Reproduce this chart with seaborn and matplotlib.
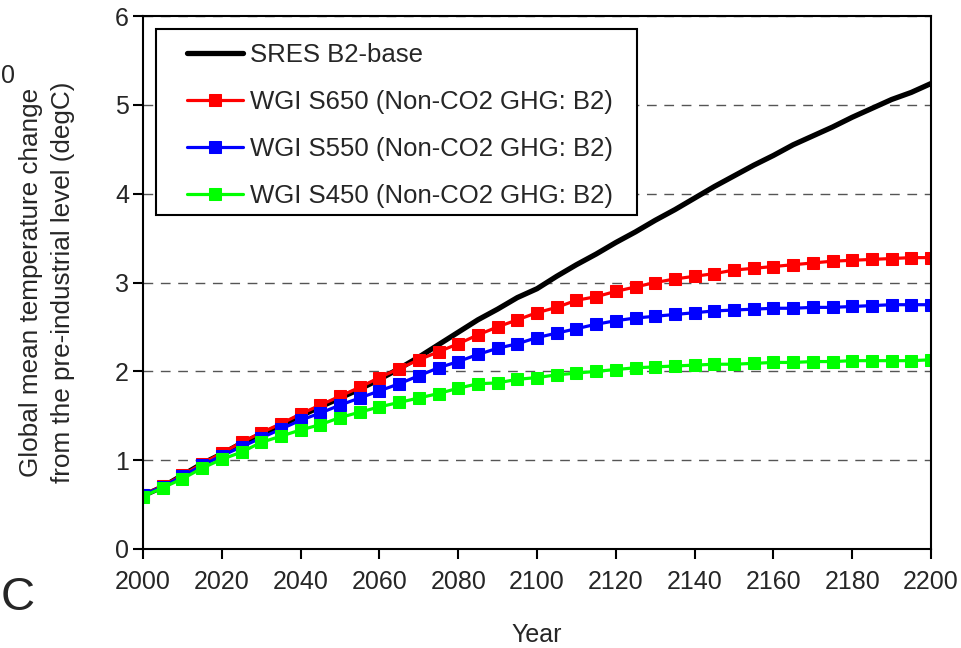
import numpy as np
import pandas as pd
import matplotlib
matplotlib.use("Agg")
import matplotlib.pyplot as plt
from matplotlib.patches import Rectangle
import seaborn as sns

years = list(range(2000, 2201, 5))

b2_base = [0.60, 0.70, 0.83, 0.96, 1.07, 1.19, 1.29, 1.39, 1.50, 1.60, 1.70, 1.80, 1.91, 2.03,
           2.16, 2.30, 2.44, 2.58, 2.70, 2.83, 2.93, 3.07, 3.20, 3.32, 3.45, 3.57, 3.70, 3.82,
           3.95, 4.08, 4.20, 4.32, 4.43, 4.55, 4.65, 4.75, 4.86, 4.96, 5.06, 5.14, 5.24]
s650 = [0.61, 0.71, 0.83, 0.96, 1.08, 1.20, 1.31, 1.41, 1.52, 1.62, 1.72, 1.82, 1.93, 2.03,
        2.13, 2.22, 2.31, 2.41, 2.50, 2.58, 2.66, 2.72, 2.80, 2.84, 2.90, 2.95, 3.00, 3.04,
        3.07, 3.10, 3.14, 3.16, 3.18, 3.20, 3.22, 3.24, 3.25, 3.26, 3.27, 3.28, 3.28]
s550 = [0.61, 0.70, 0.82, 0.94, 1.05, 1.15, 1.25, 1.35, 1.45, 1.53, 1.62, 1.70, 1.78, 1.86,
        1.95, 2.04, 2.11, 2.19, 2.26, 2.31, 2.38, 2.43, 2.48, 2.53, 2.57, 2.60, 2.62, 2.64,
        2.66, 2.68, 2.69, 2.70, 2.71, 2.71, 2.72, 2.72, 2.73, 2.74, 2.75, 2.75, 2.75]
s450 = [0.59, 0.69, 0.79, 0.91, 1.01, 1.09, 1.20, 1.27, 1.34, 1.40, 1.48, 1.54, 1.60, 1.65,
        1.70, 1.75, 1.81, 1.86, 1.87, 1.91, 1.93, 1.96, 1.98, 2.00, 2.02, 2.04, 2.05, 2.06,
        2.07, 2.08, 2.08, 2.09, 2.10, 2.10, 2.11, 2.11, 2.12, 2.12, 2.12, 2.12, 2.13]

labels = ["SRES B2-base", "WGI S650 (Non-CO2 GHG: B2)",
          "WGI S550 (Non-CO2 GHG: B2)", "WGI S450 (Non-CO2 GHG: B2)"]
x_ticks = list(range(2000, 2201, 20))
y_ticks = [0, 1, 2, 3, 4, 5, 6]

sns.set_theme(style="white")
plt.rcParams["font.family"] = ["Liberation Sans", "DejaVu Sans"]

fig = plt.figure(figsize=(9.62, 6.48), dpi=100)
ax = fig.add_axes([143/962, 1-549/648, (931-143)/962, (549-16)/648])

ax.yaxis.grid(True, linestyle=(0, (7, 5.5)), color="#555555", linewidth=1)
ax.set_axisbelow(True)

sns.lineplot(x=years, y=b2_base, ax=ax, color="black", linewidth=3.8, label=labels[0])
series = [(s650, "#FF0000", labels[1]), (s550, "#0000FF", labels[2]), (s450, "#00FF00", labels[3])]
for vals, col, lab in series:
    sns.lineplot(x=years, y=vals, ax=ax, color=col, linewidth=2.3, marker="s",
                 markersize=8, markeredgecolor=col, markerfacecolor=col, label=lab)

ax.set_xlim(2000, 2200)
ax.set_ylim(0, 6)
ax.set_xticks(x_ticks)
ax.set_yticks(y_ticks)
ax.tick_params(axis="both", labelsize=18, direction="out", length=7, width=1.5, color="black",
               bottom=True, left=True)
ax.tick_params(axis="x", pad=8)
ax.tick_params(axis="y", pad=3)
for sp in ax.spines.values():
    sp.set_visible(True)
    sp.set_color("black")
    sp.set_linewidth(1.5)

ax.set_xlabel("Year", fontsize=18)
ax.xaxis.set_label_coords(0.5, (549-635)/533)
ax.xaxis.label.set_va("center")
ax.set_ylabel("Global mean temperature change\nfrom the pre-industrial level (degC)",
              fontsize=18.8, linespacing=1.45)
ax.yaxis.set_label_coords((47-143)/788, 0.5)
ax.yaxis.label.set_va("center")

# legend frame drawn as a box, legend entries placed inside it
box = Rectangle(((156-143)/788, (549-215)/533), (637-156)/788, (215-29)/533,
                transform=ax.transAxes, facecolor="white", edgecolor="black",
                linewidth=1.5, zorder=6, clip_on=False)
ax.add_patch(box)
leg = ax.legend(loc="upper left", bbox_to_anchor=((187-143)/788, (549-43)/533), borderaxespad=0,
                fontsize=18.5, frameon=False, handlelength=2.18, handletextpad=0.27,
                labelspacing=0.9, borderpad=0)
leg.set_zorder(7)

fig.text(1/962, 1-76/648, "0", fontsize=18, ha="left", va="center")
fig.text(1/962, 1-598/648, "C", fontsize=34, ha="left", va="center")

fig.savefig("out.png", dpi=100)
